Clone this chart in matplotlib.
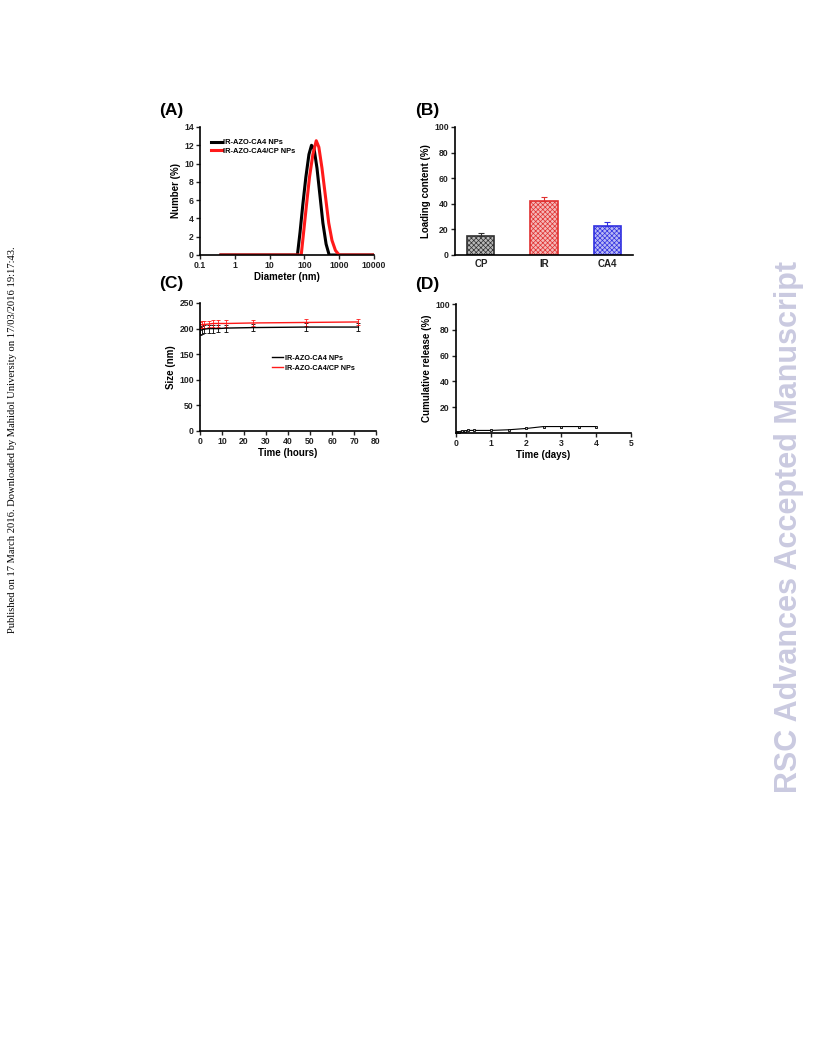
import matplotlib.pyplot as plt

plt.rcParams['font.family'] = ['Liberation Sans', 'DejaVu Sans']
plt.rcParams['font.weight'] = 'bold'
plt.rcParams['axes.labelweight'] = 'bold'
plt.rcParams['hatch.linewidth'] = 0.5

# (A) size distribution
diam_black = [0.4, 10, 63, 75, 90, 110, 135, 160, 190, 230, 280, 340, 420, 515, 1000, 10000]
num_black = [0, 0, 0, 2.5, 5.5, 8.5, 11, 12, 11.6, 9.5, 6.5, 3.5, 1.2, 0, 0, 0]
diam_red = [0.4, 10, 81, 95, 115, 140, 175, 219, 260, 320, 400, 500, 620, 780, 1000, 10000]
num_red = [0, 0, 0, 2.5, 5.5, 8.5, 11, 12.5, 11.8, 9.5, 6.5, 3.5, 1.6, 0.5, 0, 0]
series_a = ['IR-AZO-CA4 NPs', 'IR-AZO-CA4/CP NPs']

# (B) loading content
drugs = ['CP', 'IR', 'CA4']
loading = [15, 42, 22.5]
loading_err = [2.5, 3.5, 3]
bar_colors = ['#303030', '#e03030', '#3030e0']
bar_fill = ['#b8b8b8', '#f4b8b8', '#b8b8f4']

# (C) stability
hours = [0, 1, 2, 4, 6, 8, 12, 24, 48, 72]
size_black = [196, 198, 199, 200, 200, 200, 201, 202, 203, 203]
err_black = [8, 8, 8, 8, 8, 7, 7, 7, 7, 7]
size_red = [207, 208, 208, 209, 210, 210, 210, 211, 212, 213]
err_red = [6, 6, 6, 6, 7, 6, 6, 6, 6, 5]

# (D) release
days = [0, 0.083, 0.167, 0.25, 0.33, 0.5, 1, 1.5, 2, 2.5, 3, 3.5, 4]
release = [1, 1, 1.5, 1.5, 2, 2, 2, 2.5, 3.5, 5, 5, 5, 5]

W, H = 816, 1056
fig = plt.figure(figsize=(W / 100, H / 100), dpi=100)

TICK = 6.2
LAB = 7


def ax_px(x0, y0, x1, y1):
    return fig.add_axes([x0 / W, 1 - y1 / H, (x1 - x0) / W, (y1 - y0) / H])


def style(ax):
    for s in ['top', 'right']:
        ax.spines[s].set_visible(False)
    for s in ['left', 'bottom']:
        ax.spines[s].set_linewidth(1.2)
    ax.tick_params(labelsize=TICK, length=3, width=1, pad=1.5, colors='#222222')


# panel A
ax = ax_px(200, 127, 374, 255)
ax.plot(diam_black, num_black, color='black', lw=2.2, label=series_a[0])
ax.plot(diam_red, num_red, color='#ff1a1a', lw=2.2, label=series_a[1])
ax.set_xscale('log')
ax.set_xlim(0.1, 10000)
ax.set_ylim(0, 14)
ax.set_xticks([0.1, 1, 10, 100, 1000, 10000])
ax.set_xticklabels(['0.1', '1', '10', '100', '1000', '10000'])
ax.minorticks_off()
ax.set_yticks(range(0, 15, 2))
ax.set_xlabel('Diameter (nm)', fontsize=LAB, labelpad=1)
ax.set_ylabel('Number (%)', fontsize=LAB, labelpad=2)
style(ax)
ax.legend(loc='upper left', bbox_to_anchor=(0.04, 0.94), fontsize=5.4, frameon=False,
          handlelength=1.4, handletextpad=0.15, labelspacing=0.15, borderaxespad=0.2)

# panel B
ax = ax_px(455, 127, 633, 255)
for i, d in enumerate(drugs):
    ax.bar(i, loading[i], width=0.43, facecolor=bar_fill[i], edgecolor=bar_colors[i],
           hatch='xxxxxxx', lw=1.2)
    ax.errorbar(i, loading[i], yerr=[[0], [loading_err[i]]], color=bar_colors[i],
                capsize=2, elinewidth=0.8, capthick=0.8)
ax.set_xticks(range(len(drugs)))
ax.set_xticklabels(drugs)
ax.set_xlim(-0.41, 2.41)
ax.set_ylim(0, 100)
ax.set_yticks(range(0, 101, 20))
ax.set_ylabel('Loading content (%)', fontsize=LAB, labelpad=2)
style(ax)
ax.tick_params(axis='x', labelsize=7, length=0, pad=3)

# panel C
ax = ax_px(200, 303, 376, 431)
ax.errorbar(hours, size_black, yerr=err_black, color='black', lw=1, capsize=1.5,
            elinewidth=0.6, capthick=0.6, label=series_a[0])
ax.errorbar(hours, size_red, yerr=err_red, color='#ff1a1a', lw=1, capsize=1.5,
            elinewidth=0.6, capthick=0.6, label=series_a[1])
ax.set_xlim(0, 80)
ax.set_ylim(0, 250)
ax.set_xticks(range(0, 81, 10))
ax.set_yticks(range(0, 251, 50))
ax.set_xlabel('Time (hours)', fontsize=LAB, labelpad=1)
ax.set_ylabel('Size (nm)', fontsize=LAB, labelpad=2)
style(ax)
handles, labels = ax.get_legend_handles_labels()
ax.legend([h[0] for h in handles], labels, loc='center left', bbox_to_anchor=(0.37, 0.53),
          fontsize=5.2, frameon=False, handlelength=1.6, handletextpad=0.2, labelspacing=0.45)

# panel D
ax = ax_px(456, 304, 631, 433)
ax.plot(days, release, color='black', lw=0.8, marker='s', ms=1.7, mfc='#bbbbbb', mew=0.6)
ax.set_xlim(0, 5)
ax.set_ylim(0, 100)
ax.set_xticks(range(0, 6))
ax.set_yticks(range(20, 101, 20))
ax.set_xlabel('Time (days)', fontsize=LAB, labelpad=1)
ax.set_ylabel('Cumulative release (%)', fontsize=LAB, labelpad=2)
style(ax)

# panel letters
for lab, x, y in [('(A)', 159, 110), ('(B)', 415, 110), ('(C)', 159, 283), ('(D)', 415, 285)]:
    fig.text(x / W, 1 - y / H, lab, fontsize=12.5, fontweight='bold', va='center', ha='left')

# page decorations
fig.text(13 / W, 1 - 440 / H,
         'Published on 17 March 2016. Downloaded by Mahidol University on 17/03/2016 19:17:43.',
         rotation=90, fontsize=7.6, family='Liberation Serif', fontweight='normal',
         ha='center', va='center')
fig.text(789 / W, 1 - 527 / H, 'RSC Advances Accepted Manuscript', rotation=90,
         fontsize=22, fontweight='bold', color='#cacae0', ha='center', va='center')

fig.savefig('out.png', dpi=100)
